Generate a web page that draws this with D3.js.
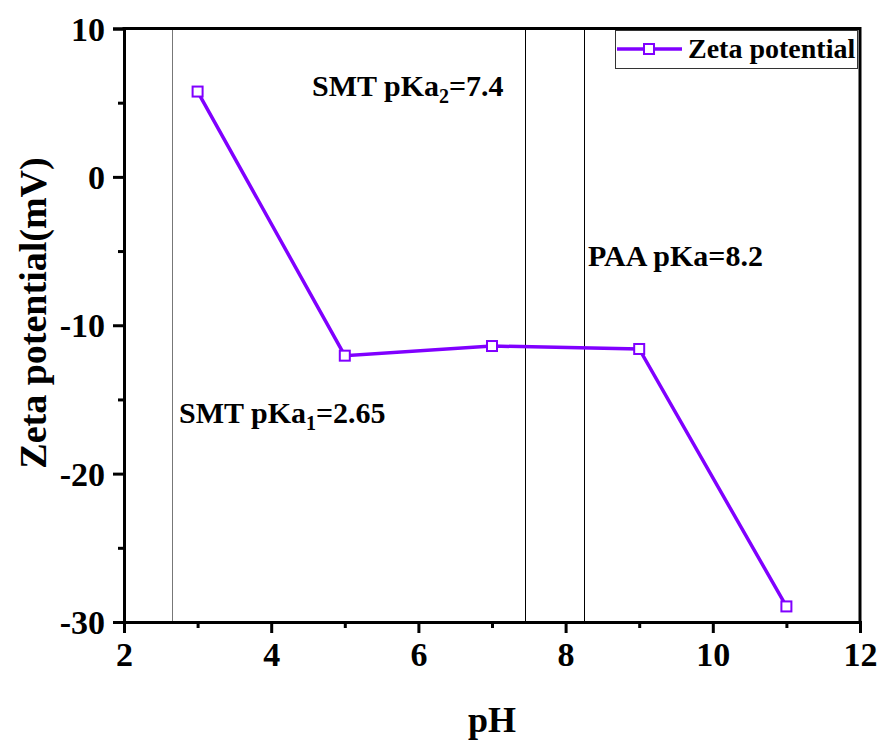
<!DOCTYPE html>
<html>
<head>
<meta charset="utf-8">
<script src="https://cdn.jsdelivr.net/npm/d3@7/dist/d3.min.js"></script>
<style>
  body { margin: 0; background: #fff; }
  text { font-family: "Liberation Serif", "Times New Roman", serif; font-weight: bold; }
</style>
</head>
<body>
<div id="chart-area"></div>
<script>
// data
var phValues = [3, 5, 7, 9, 11];
var zetaValues = [5.75, -12.05, -11.4, -11.6, -28.95];
var xTicks = [2, 4, 6, 8, 10, 12];
var yTicks = [10, 0, -10, -20, -30];
var xMinor = [3, 5, 7, 9, 11];
var yMinor = [5, -5, -15, -25];
var pkaLines = [2.65, 7.45, 8.25];
var pkaLineColors = ["#777", "#000", "#000"];

var width = 883, height = 742;
var margin = {left: 124, right: 23, top: 28.5, bottom: 120};

var svg = d3.select("#chart-area")
    .append("svg")
    .attr("width", width)
    .attr("height", height);

var x = d3.scaleLinear()
    .domain([2, 12])
    .range([margin.left, width - margin.right]);

var y = d3.scaleLinear()
    .domain([-30, 10])
    .range([622, margin.top]);

var purple = "#8000ff";

// pKa reference lines
svg.selectAll(".pka")
    .data(pkaLines)
    .enter()
    .append("line")
    .attr("x1", d => Math.round(x(d)) + 0.5)
    .attr("x2", d => Math.round(x(d)) + 0.5)
    .attr("y1", y(10))
    .attr("y2", y(-30))
    .attr("stroke", (d, i) => pkaLineColors[i])
    .attr("stroke-width", 1);

// axes
var fmt = d => String(d);
var xAxis = d3.axisBottom(x).tickValues(xTicks).tickFormat(fmt).tickSize(11).tickPadding(9);
var yAxis = d3.axisLeft(y).tickValues(yTicks).tickFormat(fmt).tickSize(11).tickPadding(8);

var gx = svg.append("g")
    .attr("transform", "translate(0," + y(-30) + ")")
    .call(xAxis);
gx.selectAll("text").attr("font-size", 34).attr("fill", "#000");

var gy = svg.append("g")
    .attr("transform", "translate(" + x(2) + ",0)")
    .call(yAxis);
gy.selectAll("text").attr("font-size", 34).attr("fill", "#000").attr("dy", "0.34em");

svg.selectAll(".domain").attr("stroke-width", 3);
svg.selectAll(".tick line").attr("stroke-width", 3);

svg.append("g")
    .attr("transform", "translate(0," + y(-30) + ")")
    .call(d3.axisBottom(x).tickValues(xMinor).tickSize(6).tickFormat(""))
    .call(g => g.select(".domain").remove())
    .selectAll("line").attr("stroke-width", 3);

svg.append("g")
    .attr("transform", "translate(" + x(2) + ",0)")
    .call(d3.axisLeft(y).tickValues(yMinor).tickSize(6).tickFormat(""))
    .call(g => g.select(".domain").remove())
    .selectAll("line").attr("stroke-width", 3);

// top and right frame
svg.append("path")
    .attr("d", "M" + x(2) + "," + y(10) + "H" + x(12) + "V" + y(-30))
    .attr("fill", "none")
    .attr("stroke", "#000")
    .attr("stroke-width", 3)
    .attr("stroke-linecap", "square");

// series
var line = d3.line()
    .x(function(d, i) { return x(phValues[i]); })
    .y(function(d) { return y(d); });

svg.append("path")
    .datum(zetaValues)
    .attr("d", line)
    .attr("fill", "none")
    .attr("stroke", purple)
    .attr("stroke-width", 3.5);

svg.selectAll(".pt")
    .data(zetaValues)
    .enter()
    .append("rect")
    .attr("x", function(d, i) { return x(phValues[i]) - 5; })
    .attr("y", d => y(d) - 5)
    .attr("width", 10)
    .attr("height", 10)
    .attr("fill", "#fff")
    .attr("stroke", purple)
    .attr("stroke-width", 2);

// annotations
function pkaLabel(xp, yp, main, sub, rest) {
    var t = svg.append("text")
        .attr("x", xp)
        .attr("y", yp)
        .attr("font-size", 30)
        .attr("fill", "#000");
    t.append("tspan").text(main);
    if (sub) {
        t.append("tspan").attr("font-size", 20).attr("dy", 7).text(sub);
        t.append("tspan").attr("dy", -7).text(rest);
    } else {
        t.append("tspan").text(rest);
    }
}
pkaLabel(179, 423, "SMT pKa", "1", "=2.65");
pkaLabel(312, 96, "SMT pKa", "2", "=7.4");
pkaLabel(588, 266, "PAA pKa", null, "=8.2");

// axis titles
svg.append("text")
    .attr("x", x(7))
    .attr("y", 732)
    .attr("text-anchor", "middle")
    .attr("font-size", 36)
    .text("pH");

svg.append("text")
    .attr("transform", "translate(46," + 313 + ") rotate(-90)")
    .attr("text-anchor", "middle")
    .attr("font-size", 38)
    .text("Zeta potential(mV)");

// legend
svg.append("rect")
    .attr("x", 615.5)
    .attr("y", 30.5)
    .attr("width", 242)
    .attr("height", 38)
    .attr("fill", "#fff")
    .attr("stroke", "#333")
    .attr("stroke-width", 1);

svg.append("line")
    .attr("x1", 617).attr("x2", 682)
    .attr("y1", 49).attr("y2", 49)
    .attr("stroke", purple)
    .attr("stroke-width", 3.5);

svg.append("rect")
    .attr("x", 644).attr("y", 44)
    .attr("width", 10).attr("height", 10)
    .attr("fill", "#fff")
    .attr("stroke", purple)
    .attr("stroke-width", 2);

svg.append("text")
    .attr("x", 688)
    .attr("y", 58)
    .attr("font-size", 28)
    .text("Zeta potential");
</script>
</body>
</html>
